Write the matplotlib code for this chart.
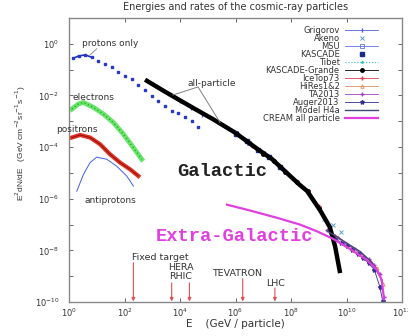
import numpy as np
import matplotlib
matplotlib.use('Agg')
import matplotlib.pyplot as plt

plt.rcParams['font.family'] = ['DejaVu Sans']
plt.rcParams['mathtext.fontset'] = 'dejavusans'

# values, as log10(E / GeV) and log10(E^2 dN/dE)
protons_logE = [0.15, 0.35, 0.58, 0.82, 1.06, 1.30, 1.54, 1.78, 2.02, 2.26, 2.50, 2.74,
                2.98, 3.22, 3.46, 3.70, 3.94, 4.18, 4.42, 4.66]
protons_logF = [-0.56, -0.47, -0.43, -0.52, -0.65, -0.78, -0.91, -1.10, -1.23, -1.36, -1.60, -1.80,
                -2.02, -2.20, -2.40, -2.60, -2.68, -2.85, -2.99, -3.22]

electrons_logE = [0.10, 0.34, 0.52, 0.88, 1.24, 1.60, 1.96, 2.32, 2.62]
electrons_logF = [-2.53, -2.33, -2.27, -2.46, -2.72, -3.05, -3.50, -4.02, -4.47]

positrons_logE = [0.10, 0.40, 0.76, 1.12, 1.48, 1.84, 2.20, 2.50]
positrons_logF = [-3.63, -3.53, -3.63, -3.89, -4.28, -4.60, -4.86, -5.12]

antiprotons_logE = [0.28, 0.52, 0.76, 1.00, 1.36, 1.72, 2.08, 2.32]
antiprotons_logF = [-5.71, -5.06, -4.60, -4.39, -4.47, -4.74, -5.12, -5.51]

allpart_logE = [2.74, 3.5, 4.5, 5.19, 6.0, 6.81, 7.3, 7.71, 8.3, 8.58, 9.05, 9.4, 9.59, 9.77]
allpart_logF = [-1.39, -1.88, -2.50, -2.92, -3.45, -4.09, -4.45, -4.86, -5.45, -5.70, -6.45, -7.10, -7.85, -8.88]

extragal_logE = [5.69, 6.5, 7.5, 8.32, 8.93, 9.51, 10.13, 10.73, 11.09, 11.27, 11.35]
extragal_logF = [-6.23, -6.45, -6.74, -7.00, -7.26, -7.55, -7.95, -8.37, -8.75, -9.14, -9.90]

h4a_logE = [9.3, 9.7, 10.1, 10.5, 10.9, 11.2]
h4a_logF = [-7.25, -7.50, -7.78, -8.05, -8.45, -9.00]

# experiments (legend entries)
grigorov_logE = [3.6, 4.0, 4.4, 4.8]
grigorov_logF = [-1.95, -2.22, -2.48, -2.74]
akeno_logE = [9.2, 9.5, 9.8]
akeno_logF = [-6.80, -7.00, -7.30]
msu_logE = [6.0, 6.5, 7.0]
msu_logF = [-3.45, -3.85, -4.22]
kascade_logE = [6.0, 6.4, 6.8, 7.2, 7.6]
kascade_logF = [-3.48, -3.78, -4.10, -4.40, -4.78]
tibet_logE = [5.0, 5.4, 5.8, 6.2, 6.6]
tibet_logF = [-2.80, -3.08, -3.30, -3.60, -3.95]
grande_logE = [7.0, 7.4, 7.8, 8.2, 8.6, 9.0]
grande_logF = [-4.25, -4.55, -4.95, -5.35, -5.72, -6.35]
icetop_logE = [6.6, 7.0, 7.4, 7.8, 8.2, 8.6, 9.0]
icetop_logF = [-3.95, -4.22, -4.52, -4.93, -5.33, -5.72, -6.30]
hires_logE = [9.4, 9.7, 10.0, 10.3, 10.6, 10.9, 11.1, 11.3]
hires_logF = [-7.25, -7.50, -7.75, -7.95, -8.20, -8.45, -8.70, -9.30]
ta_logE = [9.3, 9.6, 9.9, 10.2, 10.5, 10.8, 11.0, 11.2, 11.35]
ta_logF = [-7.20, -7.45, -7.70, -7.90, -8.10, -8.35, -8.55, -8.90, -9.80]
auger_logE = [9.6, 9.8, 10.0, 10.2, 10.4, 10.6, 10.8, 11.0, 11.2, 11.3]
auger_logF = [-7.55, -7.70, -7.85, -8.00, -8.15, -8.30, -8.50, -8.75, -9.40, -9.95]

# accelerators: log10(E) of the arrow and log10 of the arrow top
accel_logE = [2.32, 3.70, 4.34, 6.26, 7.42]
accel_top = [-8.48, -9.26, -9.26, -9.10, -9.46]
accel_names = ['Fixed target', 'HERA', 'RHIC', 'TEVATRON', 'LHC']
accel_label_logE = [3.28, 4.04, 4.04, 6.04, 7.46]
accel_label_logF = [-8.29, -8.68, -9.03, -8.91, -9.30]


def p(a):
    return 10.0 ** np.asarray(a)


fig = plt.figure(figsize=(4.08, 3.36), dpi=100)
ax = fig.add_axes([69 / 408, 34 / 336, 333 / 408, 284 / 336])
ax.set_xscale('log')
ax.set_yscale('log')
ax.set_xlim(1e0, 1e12)
ax.set_ylim(1e-10, 1e1)

# experiment data (mostly under the all-particle curve)
hs = []
hs += ax.plot(p(grigorov_logE), p(grigorov_logF), '-', color='#5060d0', lw=0.6, marker='|', ms=3, label='Grigorov')
hs += ax.plot(p(akeno_logE), p(akeno_logF), 'x', color='#60a0d0', ms=2.5, mew=0.7, label='Akeno')
hs += ax.plot(p(msu_logE), p(msu_logF), '-', color='#6070e0', lw=0.6, marker='s', mfc='none', ms=3, mew=0.6, label='MSU')
hs += ax.plot(p(kascade_logE), p(kascade_logF), 's', color='#1a2a90', ms=2.5, label='KASCADE')
hs += ax.plot(p(tibet_logE), p(tibet_logF), ':', color='#30c0c0', lw=0.8, marker='.', ms=2, label='Tibet')
hs += ax.plot(p(grande_logE), p(grande_logF), '-', color='black', lw=0.6, marker='o', ms=2.5, label='KASCADE-Grande')
hs += ax.plot(p(icetop_logE), p(icetop_logF), '-', color='#e04050', lw=0.6, marker='+', ms=3, label='IceTop73')
hs += ax.plot(p(hires_logE), p(hires_logF), '-', color='#e09060', lw=0.6, marker='^', mfc='none', ms=2.5, mew=0.6, label='HiRes1&2')
hs += ax.plot(p(ta_logE), p(ta_logF), '-', color='#a040c0', lw=0.6, marker='+', ms=3, label='TA2013')
hs += ax.plot(p(auger_logE), p(auger_logF), '-', color='#303090', lw=0.6, marker='*', ms=3, label='Auger2013')

# all-particle spectrum
ax.plot(p(allpart_logE), p(allpart_logF), '-', color='black', lw=3.2, solid_capstyle='butt')
hs += ax.plot(p(h4a_logE), p(h4a_logF), '-', color='#404878', lw=1.0, label='Model H4a')
hs += ax.plot(p(extragal_logE), p(extragal_logF), '-', color='#e040e0', lw=1.6, label='CREAM all particle')

# low-energy components
ax.plot(p(protons_logE[:4]), p(protons_logF[:4]), '-', color='#2030c0', lw=1.2)
ax.plot(p(protons_logE), p(protons_logF), 's', color='#2838c8', ms=1.8, ls='none')
ax.plot(p(electrons_logE), p(electrons_logF), '-', color='#50e050', lw=3.5, alpha=0.85)
ax.plot(p(electrons_logE), p(electrons_logF), ':', color='#20b020', lw=1.0)
ax.plot(p(positrons_logE), p(positrons_logF), '-', color='#e03020', lw=3.0)
ax.plot(p(positrons_logE), p(positrons_logF), '-', color='#801010', lw=0.6)
ax.plot(p(antiprotons_logE), p(antiprotons_logF), '-', color='#4060e0', lw=0.7)

# labels on the curves
tc = '#333333'
fs = 6.5
ax.text(p(0.47), p(0.0), 'protons only', fontsize=fs, color=tc, va='center')
ax.plot(p([1.0, 0.76]), p([-0.19, -0.43]), color='gray', lw=0.6)
ax.text(p(0.14), p(-2.07), 'electrons', fontsize=fs, color=tc, va='center')
ax.text(p(0.29), p(-3.31), 'positrons', fontsize=fs, color=tc, va='center', ha='center', clip_on=False)
ax.text(p(1.48), p(-6.07), 'antiprotons', fontsize=fs, color=tc, va='center', ha='center')
ax.text(p(5.15), p(-1.52), 'all-particle', fontsize=fs, color=tc, va='center', ha='center')
ax.plot(p([3.75, 4.65, 5.44]), p([-1.98, -1.67, -3.04]), color='gray', lw=0.7)

ax.text(p(5.51), p(-4.94), 'Galactic', fontsize=13.5, family='Liberation Mono', weight='bold',
        color='#222222', ha='center', va='center')
ax.text(p(5.95), p(-7.47), 'Extra-Galactic', fontsize=13.5, family='Liberation Mono', weight='bold',
        color='#e040e0', ha='center', va='center')

# accelerator arrows
for le, top in zip(accel_logE, accel_top):
    ax.annotate('', xy=(p(le), 1.05e-10), xytext=(p(le), p(top)),
                arrowprops=dict(arrowstyle='-|>', color='#e05050', lw=0.8,
                                mutation_scale=5, shrinkA=0, shrinkB=0))
for name, le, lf in zip(accel_names, accel_label_logE, accel_label_logF):
    ax.text(p(le), p(lf), name, fontsize=6.8, color=tc, ha='center', va='center')

# axes styling
ax.set_xticks([10.0 ** k for k in range(0, 13, 2)])
ax.set_yticks([10.0 ** k for k in range(-10, 2)])
ax.set_yticklabels(['$10^{%d}$' % k if k % 2 == 0 else '' for k in range(-10, 2)])
ax.minorticks_off()
ax.tick_params(which='both', direction='in', top=True, right=True, length=3,
               width=0.7, color='#666666', labelsize=6, labelcolor=tc, pad=3)
ax.tick_params(axis='y', pad=7)
for s in ax.spines.values():
    s.set_color('#888888')
    s.set_linewidth(1.0)

ax.set_xlabel('E    (GeV / particle)', fontsize=7.5, color=tc, labelpad=0)
ax.set_ylabel('E$^2$dN/dE   (GeV cm$^{-2}$sr$^{-1}$s$^{-1}$)', fontsize=6, color=tc,
              family='Liberation Sans')
ax.yaxis.set_label_coords(-0.123, 0.56)
ax.set_title('Energies and rates of the cosmic-ray particles', fontsize=7, color=tc, pad=6)

leg = ax.legend(handles=hs, loc='upper right', bbox_to_anchor=(378 / 408, 1 - 26 / 336),
                bbox_transform=fig.transFigure, frameon=False, fontsize=6, markerfirst=False,
                labelspacing=-0.12, handlelength=3.9, handletextpad=0.7, borderpad=0, borderaxespad=0)
for t in leg.get_texts():
    t.set_color(tc)

fig.savefig('out.png', dpi=100)
plt.close(fig)
